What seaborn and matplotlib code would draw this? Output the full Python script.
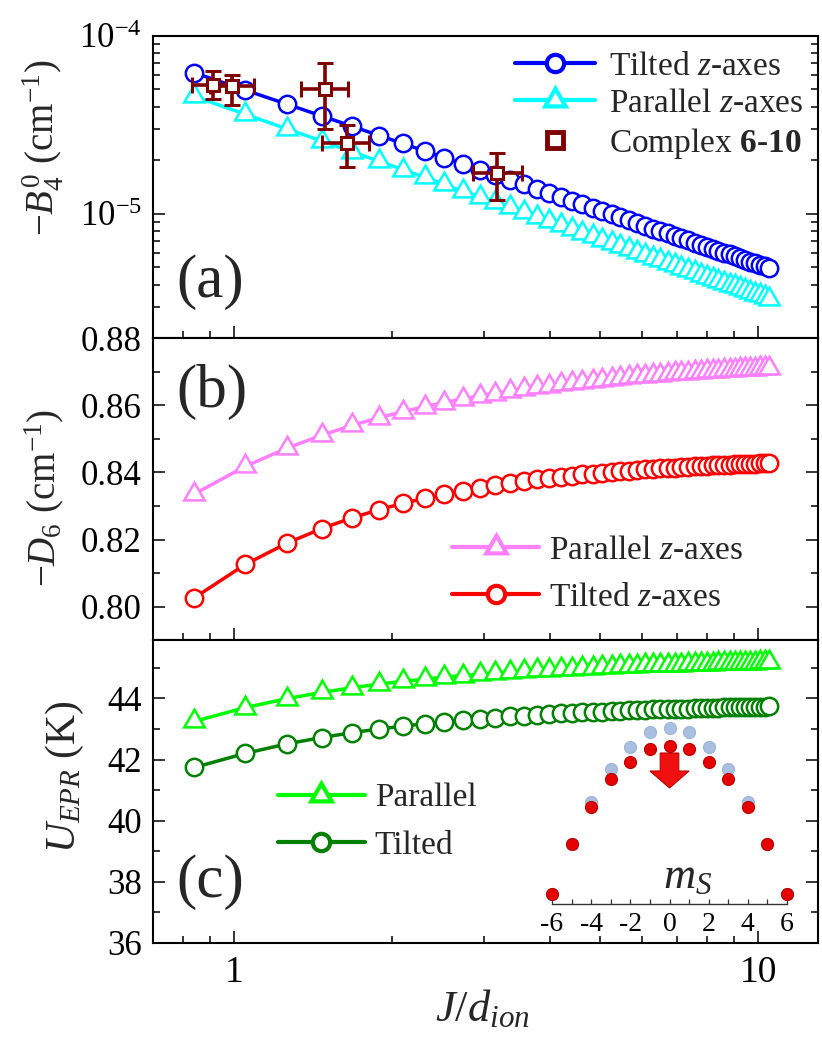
import matplotlib
matplotlib.use('Agg')
import matplotlib.pyplot as plt
import seaborn as sns
import numpy as np
from matplotlib.patches import FancyArrow
from matplotlib.ticker import MultipleLocator, NullFormatter, FuncFormatter, FormatStrFormatter

# J/d_ion values (same grid for all curves)
x_vals = [0.84, 1.05, 1.26, 1.47, 1.68, 1.89, 2.10, 2.31, 2.52, 2.73, 2.94, 3.15,
          3.36, 3.57, 3.78, 3.99, 4.20, 4.41, 4.62, 4.83, 5.04, 5.25, 5.46, 5.67,
          5.88, 6.09, 6.30, 6.51, 6.72, 6.93, 7.14, 7.35, 7.56, 7.77, 7.98, 8.19,
          8.40, 8.61, 8.82, 9.03, 9.24, 9.45, 9.66, 9.87, 10.08, 10.29, 10.50]

# panel (a): -B4^0 in units of 1e-5 cm^-1
b4_tilted = [6.19, 4.95, 4.13, 3.54, 3.10, 2.75, 2.48, 2.25, 2.06, 1.90, 1.77, 1.65,
             1.55, 1.46, 1.38, 1.30, 1.24, 1.18, 1.13, 1.08, 1.03, 0.990, 0.952, 0.917,
             0.884, 0.854, 0.825, 0.799, 0.774, 0.750, 0.728, 0.707, 0.688, 0.669, 0.652, 0.635,
             0.619, 0.604, 0.590, 0.576, 0.563, 0.550, 0.538, 0.527, 0.516, 0.505, 0.495]
b4_parallel = [4.56, 3.62, 3.00, 2.56, 2.23, 1.97, 1.77, 1.60, 1.46, 1.34, 1.247, 1.159,
               1.087, 1.021, 0.963, 0.906, 0.862, 0.819, 0.783, 0.747, 0.712, 0.683, 0.656, 0.631,
               0.607, 0.586, 0.566, 0.547, 0.529, 0.512, 0.497, 0.482, 0.469, 0.455, 0.443, 0.431,
               0.420, 0.409, 0.400, 0.390, 0.381, 0.372, 0.363, 0.355, 0.348, 0.340, 0.333]

# complexes 6-10 (experimental, with error bars)
cx = [0.91, 0.99, 1.49, 1.64, 3.18]
cx_lo = [0.83, 0.90, 1.34, 1.47, 2.86]
cx_hi = [0.99, 1.09, 1.65, 1.81, 3.54]
cy = [5.3, 5.2, 5.0, 2.5, 1.7]
cy_lo = [4.4, 4.1, 3.0, 1.82, 1.2]
cy_hi = [6.3, 6.0, 7.05, 3.16, 2.2]

# panel (b): -D6 (cm^-1)
d6_parallel = [0.8336, 0.8418, 0.8472, 0.8511, 0.8540, 0.8563, 0.8581, 0.8596, 0.8608, 0.8619,
               0.8628, 0.8635, 0.8642, 0.8648, 0.8653, 0.8658, 0.8663, 0.8666, 0.8670, 0.8673,
               0.8676, 0.8679, 0.8681, 0.8684, 0.8686, 0.8688, 0.8690, 0.8691, 0.8693, 0.8695,
               0.8696, 0.8697, 0.8699, 0.8700, 0.8701, 0.8702, 0.8703, 0.8704, 0.8705, 0.8706,
               0.8707, 0.8708, 0.8709, 0.8709, 0.8710, 0.8711, 0.8711]
d6_tilted = [0.8027, 0.8126, 0.8189, 0.8233, 0.8265, 0.8289, 0.8308, 0.8323, 0.8335, 0.8346,
             0.8354, 0.8362, 0.8368, 0.8374, 0.8379, 0.8383, 0.8387, 0.8390, 0.8394, 0.8396,
             0.8399, 0.8401, 0.8403, 0.8405, 0.8407, 0.8409, 0.8410, 0.8412, 0.8413, 0.8414,
             0.8416, 0.8417, 0.8418, 0.8419, 0.8420, 0.8421, 0.8421, 0.8422, 0.8423, 0.8424,
             0.8424, 0.8425, 0.8425, 0.8426, 0.8427, 0.8427, 0.8428]

# panel (c): U_EPR (K)
u_parallel = [43.25, 43.70, 43.99, 44.20, 44.35, 44.47, 44.56, 44.63, 44.70, 44.75, 44.79, 44.83,
              44.86, 44.89, 44.92, 44.94, 44.96, 44.98, 44.99, 45.01, 45.02, 45.04, 45.05, 45.06,
              45.07, 45.08, 45.09, 45.09, 45.10, 45.11, 45.11, 45.12, 45.13, 45.13, 45.14, 45.14,
              45.15, 45.15, 45.15, 45.16, 45.16, 45.17, 45.17, 45.17, 45.18, 45.18, 45.18]
u_tilted = [41.74, 42.20, 42.51, 42.72, 42.88, 43.00, 43.09, 43.17, 43.23, 43.29, 43.33, 43.37,
            43.41, 43.44, 43.46, 43.49, 43.51, 43.53, 43.54, 43.56, 43.57, 43.59, 43.60, 43.61,
            43.62, 43.63, 43.64, 43.65, 43.65, 43.66, 43.67, 43.67, 43.68, 43.69, 43.69, 43.70,
            43.70, 43.71, 43.71, 43.71, 43.72, 43.72, 43.72, 43.73, 43.73, 43.73, 43.74]

# inset: energy levels vs m_S (arbitrary units)
ms_levels = [-6, -5, -4, -3, -2, -1, 0, 1, 2, 3, 4, 5, 6]
e_before = [10, 60, 102, 135, 157, 172, 176, 172, 157, 135, 102, 60, 10]
e_after = [10, 60, 97, 125, 142, 155, 158, 155, 142, 125, 97, 60, 10]
ms_ticklabels = ['-6', '-4', '-2', '0', '2', '4', '6']

FAM = 'Liberation Serif'
sns.set_theme(style='ticks')
plt.rcParams['font.family'] = 'serif'
plt.rcParams['font.serif'] = [FAM, 'Times New Roman', 'DejaVu Serif']
plt.rcParams['mathtext.fontset'] = 'custom'
plt.rcParams['mathtext.rm'] = FAM
plt.rcParams['mathtext.it'] = FAM + ':italic'
plt.rcParams['mathtext.bf'] = FAM + ':bold'

fig, axs = plt.subplots(3, 1, figsize=(8.22, 10.51), dpi=100, sharex=True)
fig.subplots_adjust(left=0.186, right=0.995, top=0.966, bottom=0.103, hspace=0)

tri = (3, 0, 0)
legprop = dict(family=FAM, size=24)


def curve(ax, y, color, marker, ms, label):
    sns.lineplot(x=x_vals, y=y, ax=ax, color=color, linewidth=2.5, marker=marker,
                 markersize=ms, markerfacecolor='white', markeredgecolor=color,
                 markeredgewidth=1.8, label=label, errorbar=None, legend=False)
    return ax.get_lines()[-1]


def thick(leg):
    for h in leg.legend_handles:
        h.set_markeredgewidth(3)
        h.set_linewidth(3)


# (a)
ax = axs[0]
h1 = curve(ax, np.array(b4_tilted) * 1e-5, '#0000ff', 'o', 12.5, r'Tilted $z$-axes')
h2 = curve(ax, np.array(b4_parallel) * 1e-5, '#00ffff', tri, 17, r'Parallel $z$-axes')
cyv = np.array(cy) * 1e-5
yerr = [cyv - np.array(cy_lo) * 1e-5, np.array(cy_hi) * 1e-5 - cyv]
xerr = [np.array(cx) - np.array(cx_lo), np.array(cx_hi) - np.array(cx)]
eb = ax.errorbar(cx, cyv, xerr=xerr, yerr=yerr, fmt='s', color='#7f0000', ms=8,
                 mfc='white', mec='#7f0000', mew=2.2, elinewidth=2.6, capsize=6,
                 capthick=2.6, zorder=5)
ax.set_yscale('log')
ax.set_ylim(2e-6, 1e-4)
ax.yaxis.set_minor_formatter(NullFormatter())
ax.set_ylabel(r'$-B_4^0$ (cm$^{-1}$)', fontsize=28, fontfamily=FAM)
leg = ax.legend(handles=[h1, h2, eb[0]],
                labels=[r'Tilted $z$-axes', r'Parallel $z$-axes',
                        r'Complex $\mathbf{6}$-$\mathbf{10}$'],
                loc='upper right', bbox_to_anchor=(1.008, 1.015), prop=legprop,
                frameon=False, handlelength=2.4, handletextpad=0.4,
                labelspacing=0.2, borderaxespad=0.2)
thick(leg)
leg.legend_handles[2].set_markersize(11)
leg.legend_handles[2].set_markeredgewidth(3.5)
ax.text(0.036, 0.185, '(a)', transform=ax.transAxes, fontsize=44, fontfamily=FAM,
        ha='left', va='center')

# (b)
ax = axs[1]
h1 = curve(ax, d6_parallel, '#ff80ff', tri, 17, r'Parallel $z$-axes')
h2 = curve(ax, d6_tilted, '#ff0000', 'o', 12.5, r'Tilted $z$-axes')
ax.set_ylim(0.79, 0.88)
ax.yaxis.set_major_locator(MultipleLocator(0.02))
ax.yaxis.set_minor_locator(MultipleLocator(0.01))
ax.yaxis.set_major_formatter(FormatStrFormatter('%.2f'))
ax.set_ylabel(r'$-D_6$ (cm$^{-1}$)', fontsize=28, fontfamily=FAM)
leg = ax.legend(handles=[h1, h2], loc='lower left', bbox_to_anchor=(0.42, 0.025),
                prop=legprop, frameon=False, handlelength=2.6, handletextpad=0.3,
                labelspacing=0.5, borderaxespad=0.2)
thick(leg)
ax.text(0.036, 0.822, '(b)', transform=ax.transAxes, fontsize=44, fontfamily=FAM,
        ha='left', va='center')

# (c)
ax = axs[2]
h1 = curve(ax, u_parallel, '#00ff00', tri, 17, 'Parallel')
h2 = curve(ax, u_tilted, '#008000', 'o', 12.5, 'Tilted')
ax.set_ylim(36, 45.9)
ax.yaxis.set_major_locator(MultipleLocator(2))
ax.yaxis.set_minor_locator(MultipleLocator(1))
ax.set_ylabel(r'$U_{EPR}$ (K)', fontsize=30, fontfamily=FAM)
leg = ax.legend(handles=[h1, h2], loc='upper left', bbox_to_anchor=(0.158, 0.595),
                prop=legprop, frameon=False, handlelength=2.6, handletextpad=0.3,
                labelspacing=0.5, borderaxespad=0.2)
thick(leg)
ax.text(0.036, 0.199, '(c)', transform=ax.transAxes, fontsize=44, fontfamily=FAM,
        ha='left', va='center')

ax.set_xscale('log')
ax.set_xlim(0.7, 13)
ax.xaxis.set_major_formatter(FuncFormatter(lambda v, p: '%g' % v))
ax.xaxis.set_minor_formatter(NullFormatter())
ax.set_xlabel(r'$J/d_{ion}$', fontsize=32, fontfamily=FAM)

for a in axs:
    a.tick_params(which='both', direction='in', right=True, top=False, width=1.1,
                  colors='black', labelsize=25, labelfontfamily=FAM)
    a.tick_params(which='major', length=8.5)
    a.tick_params(which='minor', length=5)
    a.tick_params(axis='y', pad=8)
    for s in a.spines.values():
        s.set_visible(True)
        s.set_linewidth(1.5)
        s.set_color('black')
axs[2].tick_params(axis='x', labelsize=27, pad=9)

axs[0].yaxis.set_label_coords(-0.13, 0.63)
axs[1].yaxis.set_label_coords(-0.13, 0.47)
axs[2].yaxis.set_label_coords(-0.10, 0.55)
axs[2].xaxis.set_label_coords(0.496, -0.15)

# inset with the m_S level scheme
ins = fig.add_axes([552 / 822, 1 - 904 / 1051, 235 / 822, 190 / 1051])
ins.patch.set_alpha(0)
sns.scatterplot(x=ms_levels, y=e_before, ax=ins, color='#a9bfdf', edgecolor='#9cb3d8',
                s=75, linewidth=0.8, clip_on=False, zorder=3)
sns.scatterplot(x=ms_levels, y=e_after, ax=ins, color='#e60000', edgecolor='#b80000',
                s=75, linewidth=0.8, clip_on=False, zorder=4)
ins.add_patch(FancyArrow(0, 151, 0, -35, width=0.95, head_width=2.0, head_length=17,
                         length_includes_head=True, color='#f01010', ec='#c00000',
                         lw=0.8, zorder=5))
ins.set_xlim(-6, 6)
ins.set_ylim(0, 190)
for s in ['left', 'right', 'top']:
    ins.spines[s].set_visible(False)
ins.spines['bottom'].set_linewidth(1.0)
ins.spines['bottom'].set_color('#333333')
ins.set_yticks([])
ins.set_xticks([-6, -4, -2, 0, 2, 4, 6])
ins.set_xticklabels(ms_ticklabels)
ins.xaxis.set_minor_locator(MultipleLocator(1))
ins.tick_params(which='both', direction='in', length=3.5, width=0.9, colors='#333333',
                labelsize=20, labelcolor='black', pad=6, labelfontfamily=FAM)
ins.set_xlabel('')
ins.set_ylabel('')
ins.text(0.9, 27, r'$m_S$', fontsize=32, fontfamily=FAM, ha='center', va='center')

fig.savefig('out.png', dpi=100)
